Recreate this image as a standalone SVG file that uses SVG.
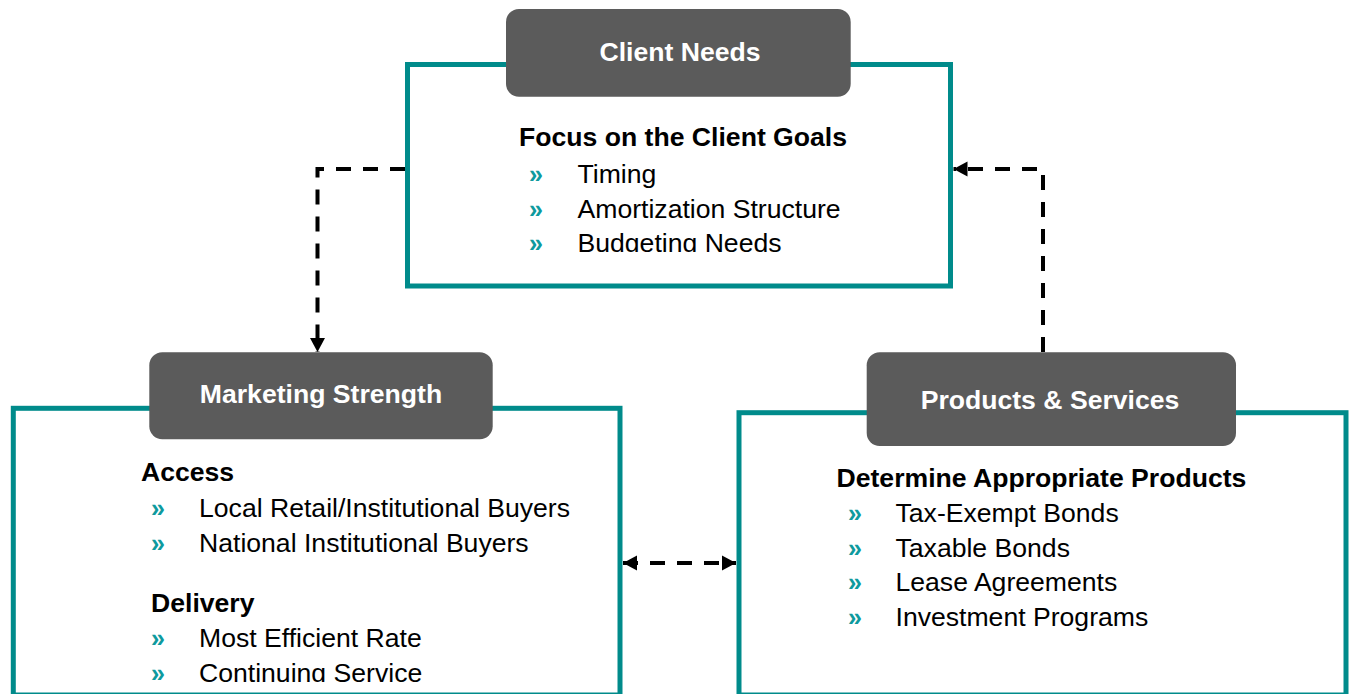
<svg xmlns="http://www.w3.org/2000/svg" width="1355" height="694" viewBox="0 0 1355 694">
  <defs>
    <style>
      .frame { fill: #ffffff; stroke: #008B8B; stroke-width: 5; }
      .hdr { fill: #5B5B5B; }
      .hdrtxt { font-family: "Liberation Sans", Arial, sans-serif; font-size: 26.6px; font-weight: bold; fill: #ffffff; text-anchor: middle; }
      .head { font-family: "Liberation Sans", Arial, sans-serif; font-size: 26.6px; font-weight: bold; fill: #000000; }
      .item { font-family: "Liberation Sans", Arial, sans-serif; font-size: 26.6px; fill: #000000; }
      .bul { font-family: "Liberation Sans", Arial, sans-serif; font-size: 25px; font-weight: bold; fill: #0E9A9E; }
      .conn { fill: none; stroke: #000000; stroke-width: 4; stroke-dasharray: 15 12; }
    </style>
    <marker id="arr" markerUnits="userSpaceOnUse" markerWidth="18" markerHeight="18" refX="14" refY="8" orient="auto-start-reverse" viewBox="0 0 18 18">
      <path d="M0,0.5 L14,8 L0,15.5 Z" fill="#000000"/>
    </marker>
    <clipPath id="clipTop"><rect x="410" y="100" width="538" height="152"/></clipPath>
    <clipPath id="clipLeft"><rect x="16" y="445" width="600" height="237"/></clipPath>
  </defs>
  <rect width="1355" height="694" fill="#ffffff"/>

  <g id="connectors">
    <path class="conn" d="M405,169 H317.5 V352" marker-end="url(#arr)"/>
    <path class="conn" d="M1043,352 V169 H953.5" marker-end="url(#arr)"/>
    <path class="conn" d="M623,563 H736" marker-start="url(#arr)" marker-end="url(#arr)"/>
  </g>

  <g id="client-needs">
    <rect class="frame" x="407.5" y="64.5" width="543" height="221.5"/>
    <rect class="hdr" x="506" y="9" width="344.7" height="87.7" rx="13" ry="13"/>
    <text class="hdrtxt" x="680" y="60.5">Client Needs</text>
    <g clip-path="url(#clipTop)">
      <text class="head" x="519" y="145.7">Focus on the Client Goals</text>
      <text class="bul" x="529" y="183">»</text>
      <text class="item" x="577.5" y="183">Timing</text>
      <text class="bul" x="529" y="217.5">»</text>
      <text class="item" x="577.5" y="217.5">Amortization Structure</text>
      <text class="bul" x="529" y="252">»</text>
      <text class="item" x="577.5" y="252">Budgeting Needs</text>
    </g>
  </g>

  <g id="marketing-strength">
    <rect class="frame" x="13.3" y="408.3" width="606.7" height="286.7"/>
    <rect class="hdr" x="149.3" y="352.3" width="343.4" height="87" rx="13" ry="13"/>
    <text class="hdrtxt" x="321" y="402.7">Marketing Strength</text>
    <g clip-path="url(#clipLeft)">
      <text class="head" x="141" y="480.5">Access</text>
      <text class="bul" x="151" y="516.7">»</text>
      <text class="item" x="199" y="516.7">Local Retail/Institutional Buyers</text>
      <text class="bul" x="151" y="551.7">»</text>
      <text class="item" x="199" y="551.7">National Institutional Buyers</text>
      <text class="head" x="151" y="611.7">Delivery</text>
      <text class="bul" x="151" y="646.7">»</text>
      <text class="item" x="199" y="646.7">Most Efficient Rate</text>
      <text class="bul" x="151" y="681.5">»</text>
      <text class="item" x="199" y="681.5">Continuing Service</text>
    </g>
  </g>

  <g id="products-services">
    <rect class="frame" x="739" y="412.7" width="607" height="282.3"/>
    <rect class="hdr" x="866.7" y="352.3" width="369.3" height="93.7" rx="13" ry="13"/>
    <text class="hdrtxt" x="1050" y="409">Products &amp; Services</text>
    <text class="head" x="836.5" y="486.7">Determine Appropriate Products</text>
    <text class="bul" x="848" y="521.7">»</text>
    <text class="item" x="895.5" y="521.7">Tax-Exempt Bonds</text>
    <text class="bul" x="848" y="556.5">»</text>
    <text class="item" x="895.5" y="556.5">Taxable Bonds</text>
    <text class="bul" x="848" y="591">»</text>
    <text class="item" x="895.5" y="591">Lease Agreements</text>
    <text class="bul" x="848" y="625.7">»</text>
    <text class="item" x="895.5" y="625.7">Investment Programs</text>
  </g>
</svg>
